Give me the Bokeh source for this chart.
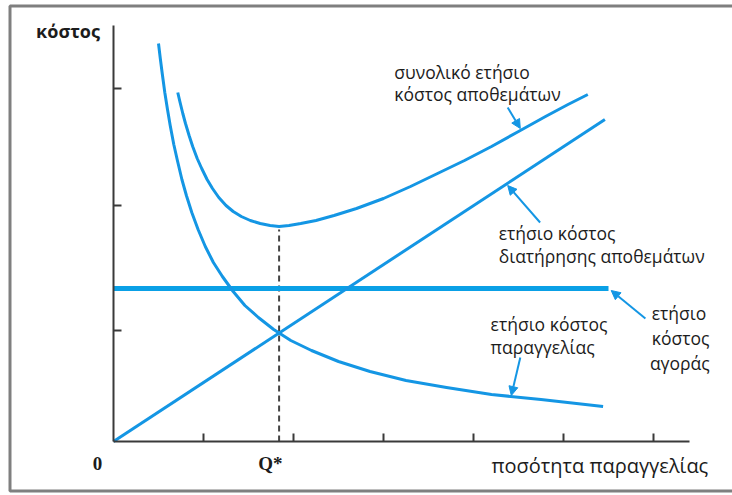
from bokeh.plotting import figure
from bokeh.models import Range1d, FixedTicker, Label, Arrow, NormalHead
from bokeh.embed import file_html
from bokeh.resources import INLINE

# --- data (quantity in tick units, cost in arbitrary units) ---
order_q = [0.50, 0.52, 0.54, 0.57, 0.60, 0.63, 0.67, 0.71, 0.76, 0.81,
           0.87, 0.94, 1.02, 1.11, 1.21, 1.33, 1.46, 1.61, 1.78, 1.97,
           2.20, 2.50, 2.85, 3.25, 3.70, 4.20, 4.75, 5.44]
order_cost = [3.98, 3.83, 3.69, 3.49, 3.32, 3.16, 2.97, 2.81, 2.62, 2.46,
              2.29, 2.12, 1.95, 1.79, 1.65, 1.50, 1.36, 1.24, 1.12, 1.01,
              0.91, 0.80, 0.70, 0.61, 0.54, 0.47, 0.42, 0.35]

hold_q = [0.0, 5.46]
hold_cost = [0.0, 3.22]

total_q = [0.714, 0.74, 0.77, 0.80, 0.84, 0.88, 0.93, 0.98, 1.04, 1.10,
           1.17, 1.25, 1.33, 1.42, 1.52, 1.63, 1.74, 1.84, 1.95, 2.08,
           2.25, 2.45, 2.70, 3.00, 3.30, 3.60, 3.90, 4.20, 4.50, 4.80,
           5.05, 5.27]
total_cost = [3.49, 3.39, 3.28, 3.18, 3.06, 2.95, 2.83, 2.73, 2.62, 2.53,
              2.44, 2.36, 2.30, 2.25, 2.21, 2.18, 2.16, 2.15, 2.16, 2.18,
              2.21, 2.26, 2.33, 2.43, 2.55, 2.68, 2.81, 2.95, 3.10, 3.25,
              3.37, 3.47]

purchase_q = [0.0, 5.50]
purchase_cost = [1.53, 1.53]

q_star = 1.84
q_star_cost = 2.12

x_ticks = [1, 2, 3, 4, 5, 6]
y_ticks = [1.11, 2.36, 3.53]
x_axis_end = 6.4
y_axis_end = 4.16

# callout arrows
arrow_x0 = [4.38, 4.74, 5.91, 4.52]
arrow_y0 = [3.34, 2.19, 1.23, 0.84]
arrow_x1 = [4.52, 4.38, 5.53, 4.42]
arrow_y1 = [3.13, 2.56, 1.51, 0.46]

# curve captions
label_text = ["συνολικό ετήσιο", "κόστος αποθεμάτων",
              "ετήσιο κόστος", "διατήρησης αποθεμάτων",
              "ετήσιο", "κόστος", "αγοράς",
              "ετήσιο κόστος", "παραγγελίας"]
label_x = [3.12, 3.12, 4.28, 4.28, 5.98, 5.98, 5.96, 4.19, 4.19]
label_y = [3.70, 3.48, 2.09, 1.86, 1.29, 1.04, 0.79, 1.18, 0.95]

# outer frame edges (left, top, bottom)
frame_x = [8.0, -1.15, -1.15, 8.0]
frame_y = [4.355, 4.355, -0.495, -0.495]

BLUE = "#1496e4"
BLUE_THICK = "#0aa0e6"
AXIS = "#3a3a3a"
TEXT = "#1c1c1c"
FONT = "Open Sans"

p = figure(width=732, height=495, output_backend="svg", toolbar_location=None,
           x_range=Range1d(-113 / 90, 619 / 90), y_range=Range1d(-0.54, 4.41),
           min_border=0)
p.background_fill_color = "white"
p.border_fill_color = "white"
p.outline_line_color = None
p.grid.visible = False

for ax in (p.xaxis[0], p.yaxis[0]):
    ax.fixed_location = 0
    ax.axis_line_color = AXIS
    ax.axis_line_width = 2
    ax.major_tick_line_color = AXIS
    ax.major_tick_line_width = 2
    ax.major_tick_in = 8
    ax.major_tick_out = 0
    ax.minor_tick_line_color = None
    ax.major_label_text_color = None
    ax.major_label_text_font_size = "0px"
    ax.major_label_standoff = 0
p.xaxis[0].ticker = FixedTicker(ticks=x_ticks)
p.yaxis[0].ticker = FixedTicker(ticks=y_ticks)
p.xaxis[0].bounds = (0, x_axis_end)
p.yaxis[0].bounds = (0, y_axis_end)

p.line(frame_x, frame_y, line_color="#7f7f7f", line_width=3)

# Q* guide
p.line([q_star, q_star], [0, q_star_cost], line_color="#444444",
       line_width=2, line_dash="6 4")

p.line(purchase_q, purchase_cost, line_color=BLUE_THICK, line_width=5)
p.line(hold_q, hold_cost, line_color=BLUE, line_width=3)
p.line(order_q, order_cost, line_color=BLUE, line_width=3, line_join="round")
p.line(total_q, total_cost, line_color=BLUE, line_width=3, line_join="round")

for x0, y0, x1, y1 in zip(arrow_x0, arrow_y0, arrow_x1, arrow_y1):
    p.add_layout(Arrow(x_start=x0, y_start=y0, x_end=x1, y_end=y1,
                       line_color=BLUE, line_width=2,
                       end=NormalHead(size=9, fill_color=BLUE, line_color=BLUE)))

for t, x, y in zip(label_text, label_x, label_y):
    p.add_layout(Label(x=x, y=y, text=t, text_font=FONT, text_font_size="17.5px",
                       text_color=TEXT, text_baseline="middle", text_align="left"))

# axis captions
p.add_layout(Label(x=-0.86, y=4.11, text="κόστος", text_font=FONT,
                   text_font_size="18px", text_font_style="bold",
                   text_color=TEXT, text_baseline="middle"))
p.add_layout(Label(x=4.20, y=-0.24, text="ποσότητα παραγγελίας", text_font=FONT,
                   text_font_size="20px", text_color=TEXT,
                   text_baseline="middle"))
p.add_layout(Label(x=-0.178, y=-0.22, text="0", text_font="Liberation Serif",
                   text_font_size="19px", text_font_style="bold",
                   text_color=TEXT, text_baseline="middle", text_align="center"))
p.add_layout(Label(x=1.744, y=-0.22, text="Q*", text_font="Liberation Serif",
                   text_font_size="19px", text_font_style="bold",
                   text_color=TEXT, text_baseline="middle", text_align="center"))

open("out.html", "w").write(file_html(p, INLINE))
